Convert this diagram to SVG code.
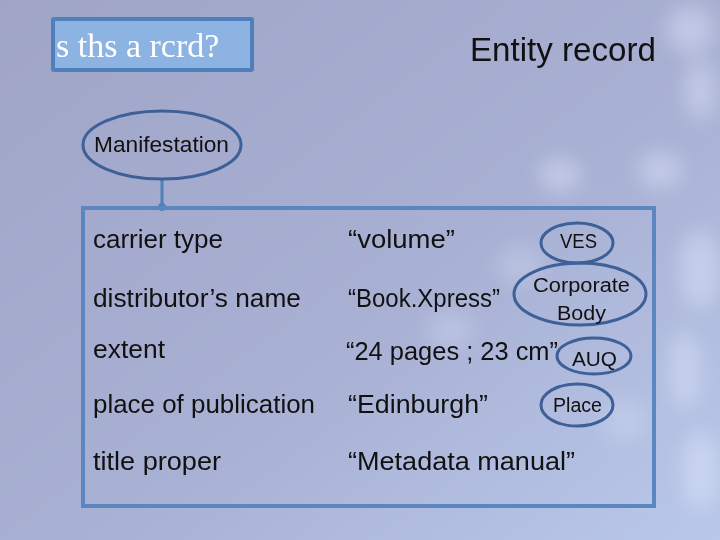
<svg xmlns="http://www.w3.org/2000/svg" width="720" height="540" viewBox="0 0 720 540">
<defs>
<linearGradient id="bg" x1="0" y1="0" x2="1" y2="1">
<stop offset="0" stop-color="#a0a5c7"/>
<stop offset="0.55" stop-color="#a8b0d3"/>
<stop offset="1" stop-color="#b9c8ea"/>
</linearGradient>
<filter id="blur" x="-50%" y="-50%" width="200%" height="200%"><feGaussianBlur stdDeviation="10"/></filter>
<style>
.t{font-family:"Liberation Sans",Arial,sans-serif;font-size:26px;fill:#111}
.e{font-family:"Liberation Sans",Arial,sans-serif;font-size:20px;fill:#111}
.ell{fill:none;stroke:#3d6098;stroke-width:3}
</style>
</defs>
<rect width="720" height="540" fill="url(#bg)"/>
<g id="snow" fill="#e6eeff" filter="url(#blur)" opacity="0.4">
<ellipse cx="690" cy="30" rx="24" ry="24"/>
<ellipse cx="700" cy="90" rx="16" ry="30"/>
<ellipse cx="560" cy="175" rx="22" ry="18"/>
<ellipse cx="660" cy="170" rx="22" ry="18"/>
<ellipse cx="700" cy="270" rx="20" ry="40"/>
<ellipse cx="685" cy="370" rx="16" ry="40"/>
<ellipse cx="700" cy="470" rx="18" ry="40"/>
<ellipse cx="450" cy="330" rx="24" ry="20" opacity="0.6"/>
<ellipse cx="520" cy="265" rx="24" ry="20" opacity="0.6"/>
<ellipse cx="625" cy="420" rx="24" ry="22" opacity="0.6"/>
</g>
<g id="title-box">
<rect x="53" y="19" width="199" height="51" fill="#8db3e2" stroke="#4f7fbd" stroke-width="4" rx="1"/>
<text x="56" y="57" font-family="'Liberation Serif','Times New Roman',serif" font-size="34" fill="#ffffff">s ths a rcrd?</text>
</g>
<g id="heading">
<text x="470" y="61" font-family="'Liberation Sans',Arial,sans-serif" font-size="33" fill="#111" textLength="186" lengthAdjust="spacingAndGlyphs">Entity record</text>
</g>
<g id="connectors">
<line x1="162" y1="180" x2="162" y2="207" stroke="#4f7fbd" stroke-width="3"/>
<circle cx="162" cy="207" r="4" fill="#4f7fbd"/>
</g>
<g id="manifestation">
<ellipse class="ell" cx="162" cy="145" rx="79" ry="34"/>
<text x="94" y="152" font-family="'Liberation Sans',Arial,sans-serif" font-size="22" fill="#111" textLength="135" lengthAdjust="spacingAndGlyphs">Manifestation</text>
</g>
<g id="record">
<rect x="83" y="208" width="571" height="298" fill="none" stroke="#5b86c0" stroke-width="4"/>
<text class="t" x="93" y="248" textLength="130" lengthAdjust="spacingAndGlyphs">carrier type</text>
<text class="t" x="348" y="248" textLength="107" lengthAdjust="spacingAndGlyphs">“volume”</text>
<text class="t" x="93" y="307" textLength="208" lengthAdjust="spacingAndGlyphs">distributor’s name</text>
<text class="t" x="348" y="307" textLength="152" lengthAdjust="spacingAndGlyphs">“Book.Xpress”</text>
<text class="t" x="93" y="358" textLength="72" lengthAdjust="spacingAndGlyphs">extent</text>
<text class="t" x="346" y="360" textLength="212" lengthAdjust="spacingAndGlyphs">“24 pages ; 23 cm”</text>
<text class="t" x="93" y="413" textLength="222" lengthAdjust="spacingAndGlyphs">place of publication</text>
<text class="t" x="348" y="413" textLength="140" lengthAdjust="spacingAndGlyphs">“Edinburgh”</text>
<text class="t" x="93" y="470" textLength="128" lengthAdjust="spacingAndGlyphs">title proper</text>
<text class="t" x="348" y="470" textLength="227" lengthAdjust="spacingAndGlyphs">“Metadata manual”</text>
</g>
<g id="ves">
<ellipse class="ell" cx="577" cy="243" rx="36" ry="20"/>
<text class="e" x="560" y="248" textLength="37" lengthAdjust="spacingAndGlyphs">VES</text>
</g>
<g id="corporate-body">
<ellipse class="ell" cx="580" cy="294" rx="66" ry="31"/>
<text class="e" x="533" y="292" textLength="97" lengthAdjust="spacingAndGlyphs">Corporate</text>
<text class="e" x="557" y="320" textLength="49" lengthAdjust="spacingAndGlyphs">Body</text>
</g>
<g id="auq">
<ellipse class="ell" cx="594" cy="356" rx="37" ry="18"/>
<text class="e" x="572" y="366" textLength="45" lengthAdjust="spacingAndGlyphs">AUQ</text>
</g>
<g id="place">
<ellipse class="ell" cx="577" cy="405" rx="36" ry="21"/>
<text class="e" x="553" y="412" textLength="49" lengthAdjust="spacingAndGlyphs">Place</text>
</g>
</svg>
